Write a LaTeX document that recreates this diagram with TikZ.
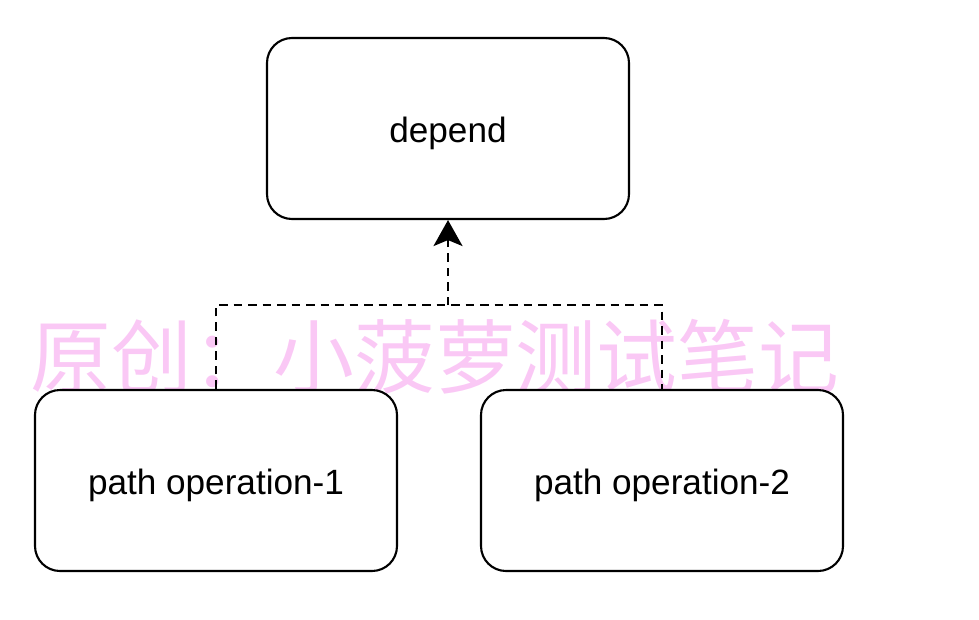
\documentclass[tikz,border=0pt]{standalone}
\usepackage{fontspec}
\setmainfont{Liberation Sans}
\newfontfamily\cjk{Noto Sans CJK SC}
\usepackage{xcolor}
\usetikzlibrary{arrows.meta}
\definecolor{markpink}{RGB}{250,200,245}

\begin{document}
\begin{tikzpicture}[
    box/.style={draw,line width=1.2pt,rounded corners=0.5cm,fill=white,
        minimum width=7.24cm,minimum height=3.62cm,text height=16pt,text depth=0pt,
        font=\fontsize{20}{24}\selectfont},
    link/.style={line width=1.1pt,dash pattern=on 0.17cm off 0.12cm}
]
    \useasboundingbox (0,0) rectangle (19.58,-12.38);
    % watermark
    \node[text=markpink,inner sep=0pt,font=\cjk\fontsize{46}{50}\selectfont] (mark) at (8.7,-7.13) {原创：小菠萝测试笔记};
    \node[box] (depend) at (8.96,-2.57) {depend};
    \node[box] (op1) at (4.32,-9.61) {path operation-1};
    \node[box] (op2) at (13.24,-9.61) {path operation-2};
    \coordinate (join) at (depend.south |- 0,-6.1);
    \draw[link] (op1.north) |- (join) -| (op2.north);
    \draw[link,-{Stealth[length=0.52cm,width=0.58cm,inset=0.12cm]}] (join) -- (depend.south);
\end{tikzpicture}
\end{document}
